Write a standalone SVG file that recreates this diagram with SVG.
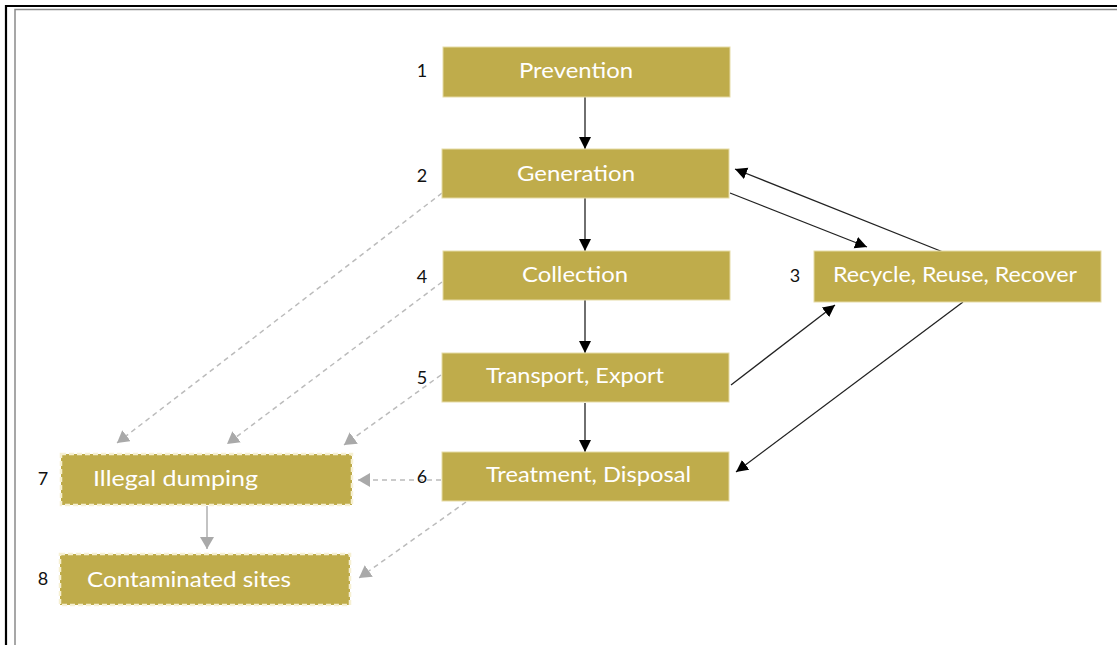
<svg xmlns="http://www.w3.org/2000/svg" width="1117" height="645" viewBox="0 0 1117 645">
<style>
.box{fill:#bfac4b;stroke:#e6dba6;stroke-width:1}
.dbox{fill:#bfac4b;stroke:#f6f0d2;stroke-width:2.5;stroke-dasharray:5 3}
.lbl{font-family:Lato,"Open Sans",sans-serif;font-size:21px;fill:#ffffff}
.num{font-family:Lato,"Open Sans",sans-serif;font-size:18px;fill:#111111;text-anchor:middle}
.blk{stroke:#222222;stroke-width:1.3;fill:none}
.gry{stroke:#bbbbbb;stroke-width:1.5;fill:none;stroke-dasharray:5 4}
.gsol{stroke:#bdbdbd;stroke-width:1.8;fill:none}
</style>
<defs>
<marker id="ab" viewBox="0 0 12 12" refX="12" refY="6" markerWidth="12" markerHeight="13" markerUnits="userSpaceOnUse" orient="auto">
<path d="M0,0 L12,6 L0,12 Z" fill="#000000"/>
</marker>
<marker id="ag" viewBox="0 0 12 14" refX="12" refY="7" markerWidth="12" markerHeight="14" markerUnits="userSpaceOnUse" orient="auto">
<path d="M0,0 L12,7 L0,14 Z" fill="#a9a9a9"/>
</marker>
</defs>
<rect width="1117" height="645" fill="#ffffff"/>
<g id="frame">
<path d="M6,645 V6 H1117" fill="none" stroke="#000000" stroke-width="2.2"/>
<path d="M15,645 V9.5 H1117" fill="none" stroke="#8a8a8a" stroke-width="1.5"/>
</g>
<g id="connectors">
<line class="blk" x1="585" y1="97" x2="585" y2="149" marker-end="url(#ab)"/>
<line class="blk" x1="585" y1="198" x2="585" y2="251" marker-end="url(#ab)"/>
<line class="blk" x1="585" y1="300" x2="585" y2="353" marker-end="url(#ab)"/>
<line class="blk" x1="585" y1="403" x2="585" y2="452" marker-end="url(#ab)"/>
<line class="blk" x1="730" y1="193" x2="867" y2="247" marker-end="url(#ab)"/>
<line class="blk" x1="943" y1="252" x2="735" y2="169" marker-end="url(#ab)"/>
<line class="blk" x1="731" y1="385" x2="835" y2="305" marker-end="url(#ab)"/>
<line class="blk" x1="963" y1="302" x2="736" y2="472" marker-end="url(#ab)"/>
<line class="gry" x1="442" y1="193" x2="117" y2="443" marker-end="url(#ag)"/>
<line class="gry" x1="442" y1="282" x2="227" y2="444" marker-end="url(#ag)"/>
<line class="gry" x1="441" y1="375" x2="344" y2="445" marker-end="url(#ag)"/>
<line class="gry" x1="441" y1="480" x2="358" y2="480" marker-end="url(#ag)"/>
<line class="gry" x1="466" y1="502" x2="359" y2="578" marker-end="url(#ag)"/>
<line class="gsol" x1="207" y1="506" x2="207" y2="549" marker-end="url(#ag)"/>
</g>
<g id="n1">
<rect class="box" x="443" y="47" width="287" height="50"/>
<text class="lbl" x="519" y="78" textLength="114" lengthAdjust="spacingAndGlyphs">Prevention</text>
<text class="num" x="422" y="77">1</text>
</g>
<g id="n2">
<rect class="box" x="442" y="149" width="287" height="49"/>
<text class="lbl" x="517" y="181" textLength="118" lengthAdjust="spacingAndGlyphs">Generation</text>
<text class="num" x="422" y="182">2</text>
</g>
<g id="n3">
<rect class="box" x="814" y="251" width="287" height="51"/>
<text class="lbl" x="833" y="282" textLength="244" lengthAdjust="spacingAndGlyphs">Recycle, Reuse, Recover</text>
<text class="num" x="795" y="282">3</text>
</g>
<g id="n4">
<rect class="box" x="443" y="251" width="287" height="49"/>
<text class="lbl" x="522" y="282" textLength="106" lengthAdjust="spacingAndGlyphs">Collection</text>
<text class="num" x="422" y="283">4</text>
</g>
<g id="n5">
<rect class="box" x="442" y="353" width="287" height="49"/>
<text class="lbl" x="486" y="383" textLength="178" lengthAdjust="spacingAndGlyphs">Transport, Export</text>
<text class="num" x="422" y="384">5</text>
</g>
<g id="n6">
<rect class="box" x="442" y="452" width="287" height="49"/>
<text class="lbl" x="486" y="482" textLength="205" lengthAdjust="spacingAndGlyphs">Treatment, Disposal</text>
<text class="num" x="422" y="483">6</text>
</g>
<g id="n7">
<rect class="dbox" x="61" y="454" width="291" height="51"/>
<text class="lbl" x="93" y="486" textLength="165" lengthAdjust="spacingAndGlyphs">Illegal dumping</text>
<text class="num" x="43" y="485">7</text>
</g>
<g id="n8">
<rect class="dbox" x="60" y="554" width="290" height="51"/>
<text class="lbl" x="87" y="587" textLength="204" lengthAdjust="spacingAndGlyphs">Contaminated sites</text>
<text class="num" x="43" y="585">8</text>
</g>
</svg>
